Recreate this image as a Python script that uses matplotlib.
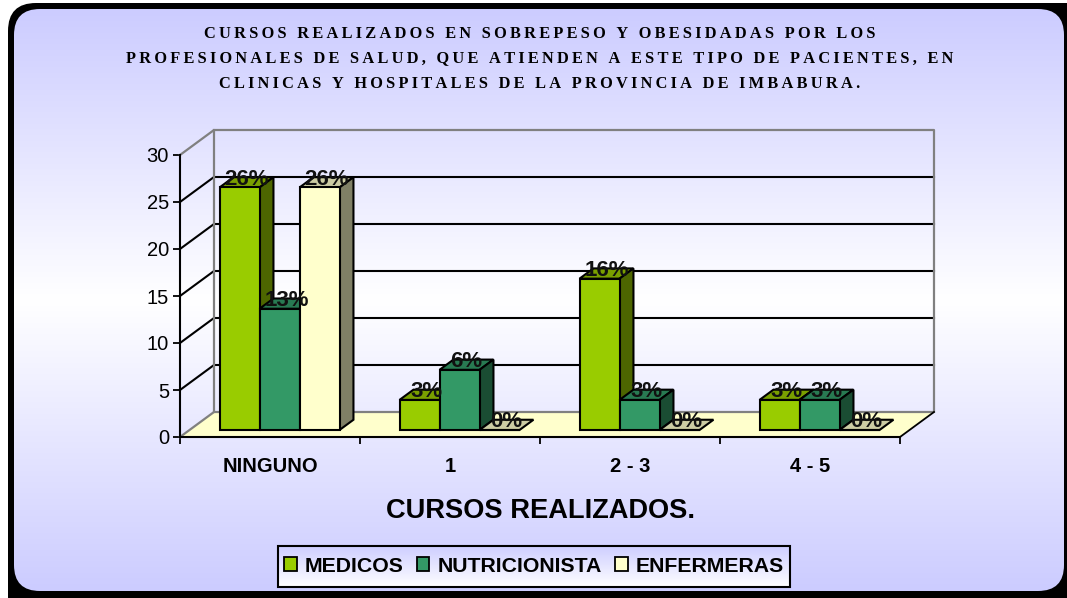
import matplotlib
matplotlib.use("Agg")
import matplotlib.pyplot as plt
import numpy as np
from matplotlib.colors import LinearSegmentedColormap
from matplotlib.patches import FancyBboxPatch, Patch, Polygon, Rectangle

categories = ["NINGUNO", "1", "2 - 3", "4 - 5"]
series_names = ["MEDICOS", "NUTRICIONISTA", "ENFERMERAS"]
medicos = [25.8, 3.2, 16.1, 3.2]
nutricionista = [12.9, 6.4, 3.2, 3.2]
enfermeras = [25.8, 0, 0, 0]
y_ticks = [0, 5, 10, 15, 20, 25, 30]
title_lines = [
    "CURSOS REALIZADOS EN SOBREPESO Y OBESIDADAS POR LOS",
    "PROFESIONALES DE SALUD, QUE ATIENDEN A ESTE TIPO DE PACIENTES, EN",
    "CLINICAS Y HOSPITALES DE LA PROVINCIA DE IMBABURA.",
]
x_title = "CURSOS REALIZADOS."

front_colors = ["#99CC00", "#339966", "#FFFFCC"]
top_colors = ["#7A9F00", "#287A52", "#CCCCA3"]
side_colors = ["#4D6600", "#1A4D33", "#808066"]

W, H = 1067, 598
DEPTH_X = 34 / 180  # wall depth in category units
DEPTH_Y = 25 / 9.4  # wall depth in value units
D0, D1 = 0.28, 0.69  # bar front and back, as a share of the depth
BAR_W = 40 / 180
MARGIN = 30 / 180


def gradient(ax, box, colors, clip):
    cmap = LinearSegmentedColormap.from_list("bg", colors)
    im = ax.imshow(np.linspace(0, 1, 256).reshape(-1, 1), cmap=cmap, aspect="auto",
                   extent=box, interpolation="bilinear", zorder=2)
    im.set_clip_path(clip)


def add_frame(fig):
    bg = fig.add_axes([0, 0, 1, 1])
    bg.set_xlim(0, W)
    bg.set_ylim(H, 0)
    bg.axis("off")
    bg.add_patch(FancyBboxPatch((36, 31), W - 36, H - 31,
                                boxstyle="round,pad=28,rounding_size=28",
                                facecolor="black", edgecolor="none", zorder=1, clip_on=True))
    inner = FancyBboxPatch((40, 35), 1064 - 40 - 26, 591 - 35 - 26,
                           boxstyle="round,pad=26,rounding_size=26",
                           facecolor="none", edgecolor="none", zorder=2)
    bg.add_patch(inner)
    gradient(bg, (14, 1064, 591, 9), ["#CCCCFF", "#FFFFFF", "#CCCCFF"], inner)
    # legend box
    box = Rectangle((277.5, 545.5), 512, 41.5, facecolor="none", edgecolor="none", zorder=3)
    bg.add_patch(box)
    gradient(bg, (277, 790, 587, 545), ["#CCCCFF", "#FFFFFF"], box)
    bg.add_patch(Rectangle((277.5, 545.5), 512, 41.5, facecolor="none", edgecolor="black",
                           linewidth=1.5, zorder=4))
    bg.set_xlim(0, W)
    bg.set_ylim(H, 0)
    return bg


def add_walls(ax):
    n = len(categories)
    top = y_ticks[-1]
    floor = [(0, 0), (n, 0), (n + DEPTH_X, DEPTH_Y), (DEPTH_X, DEPTH_Y)]
    ax.add_patch(Polygon(floor, facecolor="#FFFFCC", edgecolor="none", zorder=1, clip_on=False))
    for v in y_ticks[1:-1]:
        ax.plot([0, DEPTH_X, n + DEPTH_X], [v, v + DEPTH_Y, v + DEPTH_Y], color="black",
                lw=1.5, zorder=2, clip_on=False)
    ax.plot([0, DEPTH_X, DEPTH_X, 0], [0, DEPTH_Y, top + DEPTH_Y, top], color="#808080",
            lw=1.6, zorder=2, clip_on=False)
    ax.plot([DEPTH_X, n + DEPTH_X, n + DEPTH_X, DEPTH_X],
            [top + DEPTH_Y, top + DEPTH_Y, DEPTH_Y, DEPTH_Y], color="#808080",
            lw=1.6, zorder=2, clip_on=False)
    ax.plot([n, n + DEPTH_X], [0, DEPTH_Y], color="black", lw=1.3, zorder=2, clip_on=False)


def add_bars(ax):
    series = [medicos, nutricionista, enfermeras]
    dx = (D1 - D0) * DEPTH_X
    dy = (D1 - D0) * DEPTH_Y
    base = D0 * DEPTH_Y
    z = 3
    for i in range(len(categories)):
        for j, vals in enumerate(series):
            v = vals[i]
            x0 = i + MARGIN + j * BAR_W + D0 * DEPTH_X
            x1 = x0 + BAR_W
            y1 = base + v
            ax.add_patch(Polygon([(x0, y1), (x1, y1), (x1 + dx, y1 + dy), (x0 + dx, y1 + dy)],
                                 facecolor=top_colors[j], edgecolor="black", lw=1.5,
                                 zorder=z, clip_on=False))
            if v > 0:
                ax.add_patch(Polygon([(x1, base), (x1 + dx, base + dy), (x1 + dx, y1 + dy), (x1, y1)],
                                     facecolor=side_colors[j], edgecolor="black", lw=1.5,
                                     zorder=z, clip_on=False))
            ax.bar([x0], [v], BAR_W, bottom=base, align="edge", color=front_colors[j],
                   edgecolor="black", linewidth=1.5, zorder=z + 0.5, clip_on=False)
            z += 1
    for i in range(len(categories)):
        for j, vals in enumerate(series):
            x0 = i + MARGIN + j * BAR_W + D0 * DEPTH_X
            ax.annotate(f"{vals[i]:.0f}%", xy=(x0 + BAR_W / 2, base + vals[i]),
                        xytext=(5, 6), textcoords="offset points", ha="center", va="center",
                        fontsize=16, fontweight="bold", color="#111111", zorder=50,
                        annotation_clip=False)


def main():
    plt.rcParams["font.family"] = ["Liberation Sans", "DejaVu Sans"]
    fig = plt.figure(figsize=(W / 100, H / 100), dpi=100)
    fig.patch.set_facecolor("white")
    add_frame(fig)

    ax = fig.add_axes([180 / W, (H - 437) / H, 720 / W, 282 / H])
    ax.patch.set_alpha(0)
    ax.set_xlim(0, len(categories))
    ax.set_ylim(0, y_ticks[-1])
    for side in ["top", "right"]:
        ax.spines[side].set_visible(False)
    for side in ["left", "bottom"]:
        ax.spines[side].set_linewidth(1.5)
        ax.spines[side].set_zorder(40)
    ax.set_yticks(y_ticks)
    ax.tick_params(axis="y", labelsize=14.5, length=5, width=1.3, pad=3)
    ax.set_xticks(range(len(categories) + 1))
    ax.set_xticklabels([])
    ax.set_xticks(np.arange(len(categories)) + 0.5, minor=True)
    ax.set_xticklabels(categories, minor=True, fontsize=14.5, fontweight="bold")
    ax.tick_params(axis="x", which="major", length=5, width=1.3)
    ax.tick_params(axis="x", which="minor", length=0, pad=14.5)
    ax.set_xlabel(x_title, fontsize=19.6, fontweight="bold", labelpad=15.5)

    add_walls(ax)
    add_bars(ax)

    for line, y in zip(title_lines, [33.5, 58.5, 83.5]):
        spaced = "\u2009".join(line)
        fig.text(540 / W, 1 - y / H, spaced, ha="center", va="center", fontsize=11.8,
                 fontweight="bold", family=["Liberation Serif", "DejaVu Serif"], color="black")

    handles = [Patch(facecolor=c, edgecolor="black", linewidth=1.3) for c in front_colors]
    fig.legend(handles, series_names, loc="center", bbox_to_anchor=(534 / W, 1 - 566 / H),
               ncol=3, frameon=False, prop={"weight": "bold", "size": 15.3},
               handlelength=0.6, handleheight=0.6, handletextpad=0.38, columnspacing=0.62)

    fig.savefig("out.png", dpi=100, facecolor="white")
    plt.close(fig)


if __name__ == "__main__":
    main()
